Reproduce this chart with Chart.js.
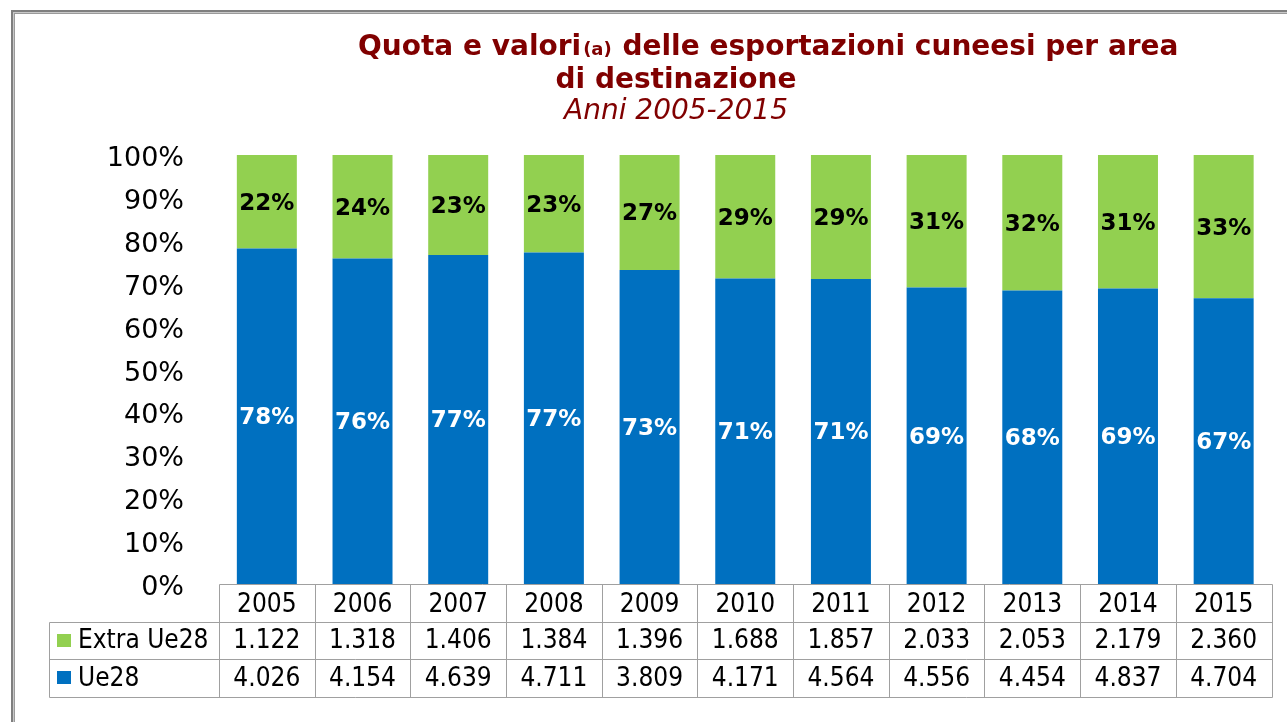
<!DOCTYPE html>
<html>
<head>
<meta charset="utf-8">
<script src="https://cdn.jsdelivr.net/npm/chart.js@4/dist/chart.umd.min.js"></script>
<style>
html,body{margin:0;padding:0;background:#fff;}
#wrap{width:1287px;height:722px;position:relative;}
canvas{display:block;}
</style>
</head>
<body>
<div id="wrap"><canvas id="c" width="1287" height="722"></canvas></div>
<script>
// ---- data ----
const categories = ['2005','2006','2007','2008','2009','2010','2011','2012','2013','2014','2015'];
const ue28Share  = [78.2, 75.9, 76.7, 77.3, 73.2, 71.2, 71.1, 69.1, 68.4, 68.9, 66.6];
const extraShare = [21.8, 24.1, 23.3, 22.7, 26.8, 28.8, 28.9, 30.9, 31.6, 31.1, 33.4];
const extraValues = [1122, 1318, 1406, 1384, 1396, 1688, 1857, 2033, 2053, 2179, 2360];
const ue28Values  = [4026, 4154, 4639, 4711, 3809, 4171, 4564, 4556, 4454, 4837, 4704];
const yTicks = [0, 10, 20, 30, 40, 50, 60, 70, 80, 90, 100];
const seriesNames = ['Ue28', 'Extra Ue28'];
const titleMain = 'Quota e valori';
const titleNote = '(a)';
const titleRest = ' delle esportazioni cuneesi per area';
const titleLine2 = 'di destinazione';
const subtitle = 'Anni 2005-2015';

// ---- styles ----
const BLUE = '#0070C0';
const GREEN = '#92D050';
const TITLE_COLOR = '#800000';
const TABLE_FONT = '"DejaVu Sans Condensed", "DejaVu Sans", sans-serif';
const AXIS_FONT = '"DejaVu Sans", sans-serif';
const LINE_COLOR = '#a0a0a0';

function fmt(v){
  if (v >= 1000) return Math.floor(v/1000) + '.' + String(v % 1000).padStart(3,'0');
  return String(v);
}

const framePlugin = {
  id:'frame',
  beforeDraw(chart){
    const c = chart.ctx;
    c.save();
    c.fillStyle = '#fff';
    c.fillRect(0,0,chart.width,chart.height);
    c.fillStyle = '#7f7f7f';
    c.fillRect(11,10,chart.width-11,2);
    c.fillRect(11,10,2,chart.height-10);
    c.fillStyle = '#c8c8c8';
    c.fillRect(13,12,chart.width-13,1);
    c.fillRect(13,12,1,chart.height-12);
    c.fillStyle = '#9a9a9a';
    c.fillRect(14,13,chart.width-14,1);
    c.fillRect(14,13,1,chart.height-13);
    c.restore();
  }
};

const labelPlugin = {
  id:'barLabels',
  afterDatasetsDraw(chart){
    const c = chart.ctx;
    c.save();
    c.font = 'bold 23px "DejaVu Sans", sans-serif';
    c.textAlign = 'center';
    c.textBaseline = 'middle';
    chart.data.datasets.forEach((ds, di) => {
      const meta = chart.getDatasetMeta(di);
      c.fillStyle = di === 0 ? '#ffffff' : '#000000';
      meta.data.forEach((bar, i) => {
        const cy = (bar.y + bar.base) / 2;
        c.fillText(Math.round(ds.data[i]) + '%', bar.x, cy + 2);
      });
    });
    c.restore();
  }
};

const tablePlugin = {
  id:'dataTable',
  afterDraw(chart){
    const c = chart.ctx;
    const ca = chart.chartArea;
    const xs = chart.scales.x;
    const n = categories.length;
    const colW = (ca.right - ca.left) / n;
    const rowH = 37.7;
    const top = ca.bottom;
    const labelLeft = 49;
    const snap = v => Math.round(v) + 0.5;
    c.save();
    c.strokeStyle = LINE_COLOR;
    c.lineWidth = 1;
    c.beginPath();
    c.moveTo(snap(ca.left), snap(top)); c.lineTo(snap(ca.right), snap(top));
    for (let r = 1; r <= 3; r++) {
      const y = snap(top + r * rowH);
      c.moveTo(labelLeft + 0.5, y); c.lineTo(snap(ca.right), y);
    }
    for (let i = 0; i <= n; i++) {
      const x = snap(i < n ? xs.getPixelForValue(i) - colW/2 : xs.getPixelForValue(n-1) + colW/2);
      c.moveTo(x, snap(top)); c.lineTo(x, snap(top + 3*rowH));
    }
    c.moveTo(labelLeft + 0.5, snap(top + rowH)); c.lineTo(labelLeft + 0.5, snap(top + 3*rowH));
    c.stroke();

    const rows = [
      {name: seriesNames[1], color: GREEN, values: extraValues},
      {name: seriesNames[0], color: BLUE, values: ue28Values}
    ];
    c.font = '26px ' + TABLE_FONT;
    c.textBaseline = 'middle';
    rows.forEach((row, r) => {
      const cy = top + (r + 1.5) * rowH;
      c.fillStyle = row.color;
      c.fillRect(57, Math.round(cy - 7), 14, 13);
      c.fillStyle = '#000';
      c.textAlign = 'left';
      c.fillText(row.name, 78, cy + 1);
      c.textAlign = 'center';
      row.values.forEach((v, i) => {
        c.fillText(fmt(v), xs.getPixelForValue(i), cy + 1);
      });
    });
    c.restore();
  }
};

const titlePlugin = {
  id:'customTitle',
  afterDraw(chart){
    const c = chart.ctx;
    c.save();
    c.fillStyle = TITLE_COLOR;
    c.textBaseline = 'alphabetic';
    c.textAlign = 'left';
    const bigFont = 'bold 28px "DejaVu Sans", sans-serif';
    const smallFont = 'bold 18px "DejaVu Sans", sans-serif';
    c.font = bigFont;
    let x = 358;
    c.fillText(titleMain, x, 55);
    x += c.measureText(titleMain).width + 2;
    c.font = smallFont;
    c.fillText(titleNote, x, 55);
    x += c.measureText(titleNote).width + 1;
    c.font = bigFont;
    c.fillText(titleRest, x, 55);
    c.textAlign = 'center';
    c.fillText(titleLine2, 676, 88);
    c.font = 'italic 28px "DejaVu Sans", sans-serif';
    c.fillText(subtitle, 676, 119);
    c.restore();
  }
};

new Chart(document.getElementById('c'), {
  type: 'bar',
  data: {
    labels: categories,
    datasets: [
      {label: seriesNames[0], data: ue28Share, backgroundColor: BLUE, borderWidth: 0},
      {label: seriesNames[1], data: extraShare, backgroundColor: GREEN, borderWidth: 0}
    ]
  },
  options: {
    responsive: false,
    animation: false,
    devicePixelRatio: 1,
    layout: {padding: {top: 155, left: 0, right: 15.5, bottom: 0}},
    datasets: {bar: {categoryPercentage: 1, barPercentage: 0.627}},
    plugins: {legend: {display: false}, title: {display: false}, tooltip: {enabled: false}},
    scales: {
      x: {
        stacked: true,
        grid: {display: false},
        border: {display: false},
        ticks: {color: '#000', font: {family: TABLE_FONT, size: 26, lineHeight: 1}, padding: 0, maxRotation: 0, autoSkip: false},
        afterFit(s){ s.height = 138; }
      },
      y: {
        stacked: true,
        min: 0, max: 100,
        grid: {display: false},
        border: {display: false},
        afterBuildTicks(s){ s.ticks = yTicks.map(v => ({value: v})); },
        ticks: {color: '#000', font: {family: AXIS_FONT, size: 27}, padding: 27, labelOffset: 4, callback: v => v + '%'},
        afterFit(s){ s.width = 219; }
      }
    }
  },
  plugins: [framePlugin, labelPlugin, tablePlugin, titlePlugin]
});
</script>
</body>
</html>
